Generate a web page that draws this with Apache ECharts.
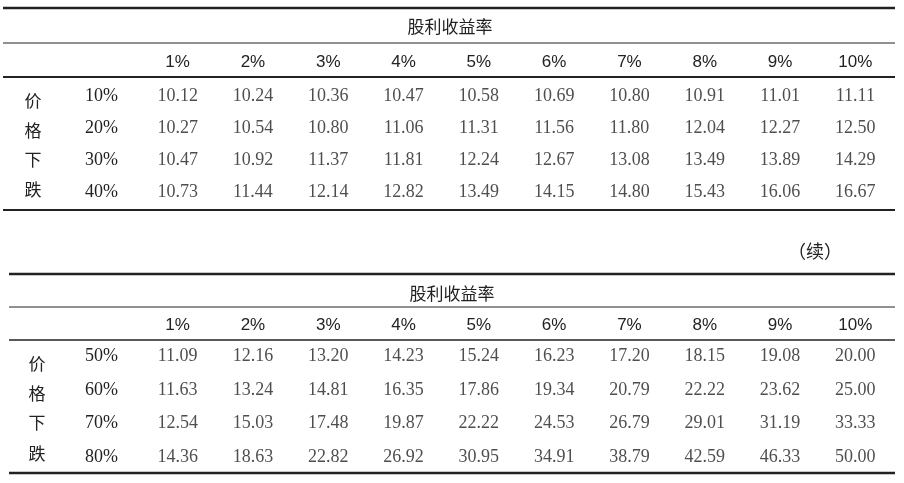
<!DOCTYPE html>
<html><head><meta charset="utf-8">
<script src="https://cdn.jsdelivr.net/npm/echarts@6/dist/echarts.min.js"></script>
<style>html,body{margin:0;background:#fff}#chart{width:904px;height:483px}</style>
</head><body><div id="chart"></div>
<script>
// 列（股利收益率）と行（价格下跌）
const yieldCols = ['1%', '2%', '3%', '4%', '5%', '6%', '7%', '8%', '9%', '10%'];
const dropRows1 = ['10%', '20%', '30%', '40%'];
const dropRows2 = ['50%', '60%', '70%', '80%'];

// 表の値
const row10 = [10.12, 10.24, 10.36, 10.47, 10.58, 10.69, 10.80, 10.91, 11.01, 11.11];
const row20 = [10.27, 10.54, 10.80, 11.06, 11.31, 11.56, 11.80, 12.04, 12.27, 12.50];
const row30 = [10.47, 10.92, 11.37, 11.81, 12.24, 12.67, 13.08, 13.49, 13.89, 14.29];
const row40 = [10.73, 11.44, 12.14, 12.82, 13.49, 14.15, 14.80, 15.43, 16.06, 16.67];
const row50 = [11.09, 12.16, 13.20, 14.23, 15.24, 16.23, 17.20, 18.15, 19.08, 20.00];
const row60 = [11.63, 13.24, 14.81, 16.35, 17.86, 19.34, 20.79, 22.22, 23.62, 25.00];
const row70 = [12.54, 15.03, 17.48, 19.87, 22.22, 24.53, 26.79, 29.01, 31.19, 33.33];
const row80 = [14.36, 18.63, 22.82, 26.92, 30.95, 34.91, 38.79, 42.59, 46.33, 50.00];

const table1 = [row10, row20, row30, row40];
const table2 = [row50, row60, row70, row80];

const serif = '"Liberation Serif", "Times New Roman", serif';
const sans = '"Liberation Sans", Arial, "Noto Sans CJK SC", sans-serif';
const cjk = '"Noto Sans CJK SC", sans-serif';
const ink = '#222';

// 行×列のセルデータを作る
function cells(rows) {
  const out = [];
  rows.forEach((r, ri) => r.forEach((v, ci) => out.push([ci, ri, v])));
  return out;
}

function xAxisFor(gridIndex, margin) {
  return {
    gridIndex, type: 'category', data: yieldCols, position: 'top',
    axisLine: { show: false }, axisTick: { show: false }, splitLine: { show: false },
    axisLabel: { margin, color: ink, fontFamily: sans, fontSize: 17 }
  };
}
function yAxisFor(gridIndex, rows) {
  return {
    gridIndex, type: 'category', data: rows, inverse: true,
    axisLine: { show: false }, axisTick: { show: false }, splitLine: { show: false },
    axisLabel: { margin: 22, color: ink, fontFamily: serif, fontSize: 18 }
  };
}
function cellSeries(i, rows) {
  return {
    type: 'scatter', xAxisIndex: i, yAxisIndex: i, data: cells(rows),
    symbolSize: 1, itemStyle: { color: 'rgba(0,0,0,0)' }, silent: true,
    label: {
      show: true, position: 'inside', color: ink, fontFamily: serif, fontSize: 18,
      formatter: p => p.value[2].toFixed(2)
    }
  };
}

// 罫線
function hline(y, w, x1) {
  return { type: 'line', shape: { x1: x1, y1: y, x2: 895, y2: y }, style: { stroke: '#222', lineWidth: w } };
}
function txt(x, y, t, font, size) {
  return { type: 'text', x, y, style: { text: t, fill: ink, font: size + 'px ' + font, align: 'center', verticalAlign: 'middle' } };
}

const chart = echarts.init(document.getElementById('chart'));
chart.setOption({
  animation: false,
  grid: [
    { left: 140, width: 753, top: 80, height: 128 },
    { left: 140, width: 753, top: 340, height: 134 }
  ],
  xAxis: [xAxisFor(0, 9), xAxisFor(1, 6)],
  yAxis: [yAxisFor(0, dropRows1), yAxisFor(1, dropRows2)],
  series: [cellSeries(0, table1), cellSeries(1, table2)],
  graphic: [
    hline(8, 2.5, 3), hline(43, 1, 3), hline(77, 2, 3), hline(210, 2, 3),
    hline(274, 2.5, 9), hline(307, 1, 9), hline(340, 1.5, 9), hline(473, 2.5, 9),
    txt(450, 27, '股利收益率', cjk, 17),
    txt(452, 294, '股利收益率', cjk, 17),
    txt(33, 101, '价', cjk, 17), txt(33, 131, '格', cjk, 17),
    txt(33, 160, '下', cjk, 17), txt(33, 190, '跌', cjk, 17),
    txt(37, 364, '价', cjk, 17), txt(37, 394, '格', cjk, 17),
    txt(37, 423, '下', cjk, 17), txt(37, 454, '跌', cjk, 17),
    txt(815, 251, '（续）', cjk, 18)
  ]
});
</script></body></html>
